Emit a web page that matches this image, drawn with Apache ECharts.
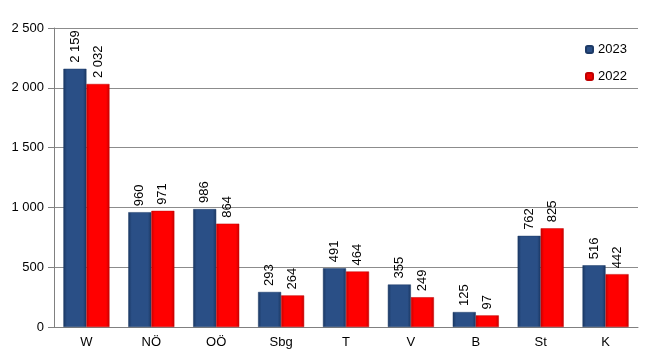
<!DOCTYPE html>
<html><head><meta charset="utf-8">
<script src="https://cdn.jsdelivr.net/npm/echarts@6/dist/echarts.min.js"></script>
<style>html,body{margin:0;padding:0;background:#fff}#c{width:663px;height:357px}</style>
</head><body><div id="c"></div>
<script>
const categories = ["W","NÖ","OÖ","Sbg","T","V","B","St","K"];
const values2023 = [2159,960,986,293,491,355,125,762,516];
const values2022 = [2032,971,864,264,464,249,97,825,442];
const seriesNames = ["2023","2022"];
const yTicks = {min:0,max:2500,interval:500};

function fmt(v){return String(v).replace(/\B(?=(\d{3})+(?!\d))/g,' ');}
function grad(edge, mid){
  return new echarts.graphic.LinearGradient(0,0,1,0,[
    {offset:0,color:edge},{offset:0.15,color:mid},{offset:0.85,color:mid},{offset:1,color:edge}]);
}
const font = 'Liberation Sans, Arial, sans-serif';
const chart = echarts.init(document.getElementById('c'));
const lbl = {show:true,position:'top',rotate:90,align:'left',verticalAlign:'middle',distance:6,
  formatter:p=>fmt(p.value),fontFamily:font,fontSize:13,color:'#000'};
chart.setOption({
  animation:false,
  textStyle:{fontFamily:font},
  grid:{left:54,right:25,top:28,bottom:30},
  legend:{orient:'vertical',left:580,top:38,itemWidth:7,itemHeight:7,itemGap:14,
    textStyle:{fontFamily:font,fontSize:13,color:'#000'},
    data:[{name:seriesNames[0],itemStyle:{color:'#2a4f86'}},{name:seriesNames[1],itemStyle:{color:'#ee0000'}}]},
  xAxis:{type:'category',data:categories,
    axisLine:{lineStyle:{color:'#808080'}},
    axisTick:{length:5,lineStyle:{color:'#808080'}},
    axisLabel:{color:'#000',fontSize:13,fontFamily:font,margin:9}},
  yAxis:{type:'value',min:yTicks.min,max:yTicks.max,interval:yTicks.interval,
    axisLine:{show:true,lineStyle:{color:'#808080'}},
    axisTick:{show:true,length:6,lineStyle:{color:'#808080'}},
    splitLine:{lineStyle:{color:'#8c8c8c'}},
    axisLabel:{color:'#000',fontSize:13,fontFamily:font,margin:10,formatter:v=>fmt(v)}},
  series:[
    {name:seriesNames[0],type:'bar',data:values2023,barGap:'0%',barCategoryGap:'29%',
     itemStyle:{color:grad('#1a3762','#2a4f86'),borderColor:'#1d3a66',borderWidth:0.5},label:lbl},
    {name:seriesNames[1],type:'bar',data:values2022,
     itemStyle:{color:grad('#c80000','#ff0000'),borderColor:'#c00000',borderWidth:0.5},label:lbl}
  ]
});
</script></body></html>
